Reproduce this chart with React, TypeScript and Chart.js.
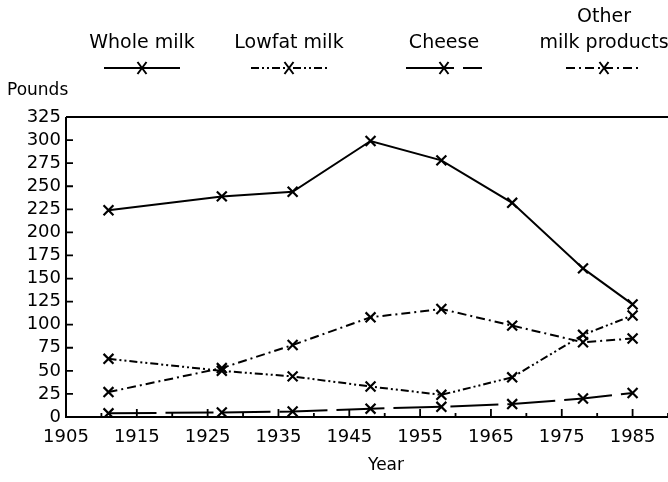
import React, { useEffect, useRef } from "react";
import { Chart, registerables } from "chart.js";

Chart.register(...registerables);

const years = [1911, 1927, 1937, 1948, 1958, 1968, 1978, 1985];
const wholeMilk = [224, 239, 244, 299, 278, 232, 161, 122];
const lowfatMilk = [63, 50, 44, 33, 24, 43, 89, 110];
const cheese = [4, 5, 6, 9, 11, 14, 20, 26];
const otherMilk = [27, 53, 78, 108, 117, 99, 81, 85];
const seriesNames = [["Whole milk"], ["Lowfat milk"], ["Cheese"], ["Other", "milk products"]];
const xTickValues = [1905, 1915, 1925, 1935, 1945, 1955, 1965, 1975, 1985];
const yTickValues = [0, 25, 50, 75, 100, 125, 150, 175, 200, 225, 250, 275, 300, 325];
const yAxisTitle = "Pounds";
const xAxisTitle = "Year";

const FONT = "DejaVu Sans";

const dashes = [[], [8, 3, 2, 3, 2, 3], [48, 9], [9, 4, 2, 4]];
const legendCenters = [142, 289, 444, 604];

const App = () => {
  const ref = useRef<HTMLCanvasElement | null>(null);

  useEffect(() => {
    document.body.style.margin = "0";
    const canvas = ref.current;
    if (!canvas) return;

    const series = [wholeMilk, lowfatMilk, cheese, otherMilk];

    const decor = {
      id: "decor",
      afterDraw(chart: any) {
        const ctx = chart.ctx;
        const area = chart.chartArea;
        const xs = chart.scales.x;
        const ys = chart.scales.y;
        ctx.save();
        ctx.strokeStyle = "#000";
        ctx.fillStyle = "#000";
        ctx.lineWidth = 2;
        ctx.setLineDash([]);
        ctx.beginPath();
        ctx.moveTo(area.left, area.top);
        ctx.lineTo(area.right, area.top);
        ctx.moveTo(area.left, area.top);
        ctx.lineTo(area.left, area.bottom);
        ctx.lineTo(area.right, area.bottom);
        ctx.stroke();
        ctx.lineWidth = 1.8;
        ctx.beginPath();
        yTickValues.forEach((v) => {
          const y = ys.getPixelForValue(v);
          ctx.moveTo(area.left, y);
          ctx.lineTo(area.left + 7, y);
        });
        for (let yr = 1905; yr <= 1990; yr += 5) {
          const x = xs.getPixelForValue(yr);
          const len = yr % 10 === 5 ? 8 : 4;
          ctx.moveTo(x, area.bottom);
          ctx.lineTo(x, area.bottom - len);
        }
        ctx.stroke();

        ctx.font = `17px ${FONT}`;
        ctx.textBaseline = "middle";
        ctx.textAlign = "left";
        ctx.fillText(yAxisTitle, 7, 91);
        ctx.textAlign = "center";
        ctx.fillText(xAxisTitle, 386, 466);

        ctx.font = `19px ${FONT}`;
        seriesNames.forEach((lines, i) => {
          const cx = legendCenters[i];
          const n = lines.length;
          lines.forEach((t, j) => {
            const ty = 43 - (n - 1 - j) * 26;
            ctx.fillText(t, cx, ty);
          });
          ctx.lineWidth = 1.8;
          ctx.setLineDash(dashes[i]);
          ctx.beginPath();
          ctx.moveTo(cx - 38, 68);
          ctx.lineTo(cx + 38, 68);
          ctx.stroke();
          ctx.setLineDash([]);
          ctx.lineWidth = 2;
          ctx.beginPath();
          ctx.moveTo(cx - 4.5, 62);
          ctx.lineTo(cx + 4.5, 74);
          ctx.moveTo(cx + 4.5, 62);
          ctx.lineTo(cx - 4.5, 74);
          ctx.stroke();
        });
        ctx.restore();
      },
    };

    const chart = new Chart(canvas, {
      type: "line",
      data: {
        datasets: series.map((s, i) => ({
          label: seriesNames[i].join(" "),
          data: s.map((v, k) => ({ x: years[k], y: v })),
          borderColor: "#000",
          backgroundColor: "#000",
          borderWidth: 2,
          borderDash: dashes[i],
          pointStyle: "crossRot",
          pointRadius: 7,
          pointBorderWidth: 2.2,
          pointBorderColor: "#000",
          tension: 0,
          fill: false,
        })),
      },
      options: {
        animation: false,
        responsive: false,
        layout: { autoPadding: false, padding: { top: 117, left: 0, right: 0, bottom: 0 } },
        plugins: { legend: { display: false }, tooltip: { enabled: false }, title: { display: false } },
        scales: {
          x: {
            type: "linear",
            min: 1905,
            max: 1990,
            afterBuildTicks: (scale: any) => {
              scale.ticks = xTickValues.map((v) => ({ value: v }));
            },
            afterFit: (scale: any) => {
              scale.height = 65;
              scale.paddingLeft = 0;
              scale.paddingRight = 0;
            },
            grid: { display: false, drawTicks: false },
            border: { display: false },
            ticks: {
              color: "#000",
              font: { family: FONT, size: 18 },
              padding: 10,
              maxRotation: 0,
              autoSkip: false,
              callback: (v: any) => String(v),
            },
          },
          y: {
            type: "linear",
            min: 0,
            max: 325,
            afterBuildTicks: (scale: any) => {
              scale.ticks = yTickValues.map((v) => ({ value: v }));
            },
            afterFit: (scale: any) => {
              scale.width = 66;
              scale.paddingTop = 0;
              scale.paddingBottom = 0;
            },
            grid: { display: false, drawTicks: false },
            border: { display: false },
            ticks: {
              color: "#000",
              font: { family: FONT, size: 18 },
              padding: 5,
              autoSkip: false,
              callback: (v: any) => String(v),
            },
          },
        },
      },
      plugins: [decor],
    } as any);

    return () => chart.destroy();
  }, []);

  return <canvas ref={ref} width={668} height={482} style={{ display: "block" }} />;
};

export default App;
